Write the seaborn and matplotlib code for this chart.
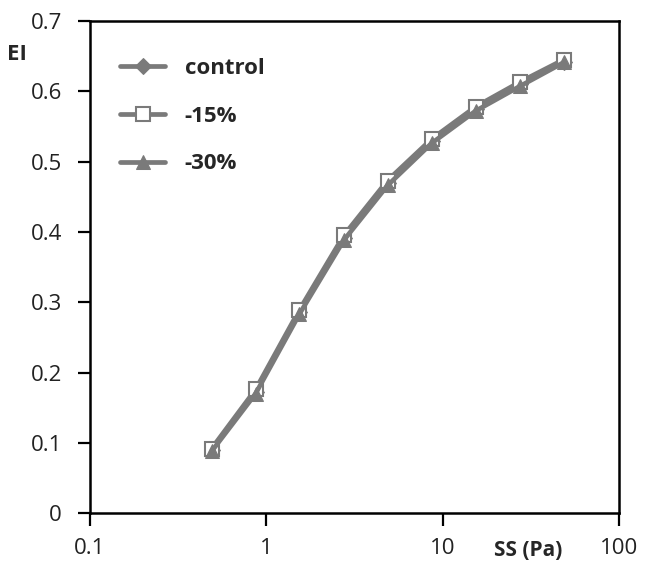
import pandas as pd
import seaborn as sns
import matplotlib.pyplot as plt
import numpy as np

# shear stress (Pa) and elongation index
ss = [0.49, 0.87, 1.54, 2.75, 4.87, 8.66, 15.4, 27.4, 48.7]
ei_control = [0.090, 0.173, 0.286, 0.391, 0.469, 0.529, 0.575, 0.610, 0.642]
ei_15 = [0.092, 0.176, 0.289, 0.395, 0.473, 0.532, 0.578, 0.613, 0.645]
ei_30 = [0.088, 0.170, 0.283, 0.388, 0.466, 0.526, 0.572, 0.607, 0.641]

series_names = ["control", "-15%", "-30%"]
y_ticks = [0, 0.1, 0.2, 0.3, 0.4, 0.5, 0.6, 0.7]
y_labels = ["0", "0.1", "0.2", "0.3", "0.4", "0.5", "0.6", "0.7"]
x_ticks = [0.1, 1, 10, 100]
x_labels = ["0.1", "1", "10", "100"]

sns.set_style("white")
plt.rcParams["font.family"] = ["Open Sans", "DejaVu Sans"]

gray = "#7a7a7a"

fig = plt.figure(figsize=(6.51, 5.78), dpi=100)
ax = fig.add_axes([0.138, 0.112, 0.813, 0.852])

styles = {
    "control": dict(marker="D", markersize=8, markerfacecolor=gray, markeredgecolor=gray),
    "-15%": dict(marker="s", markersize=10, markerfacecolor="white", markeredgecolor=gray,
                 markeredgewidth=1.5),
    "-30%": dict(marker="^", markersize=9.5, markerfacecolor=gray, markeredgecolor=gray),
}

for name, vals in zip(series_names, [ei_control, ei_15, ei_30]):
    df = pd.DataFrame({"SS": ss, "EI": vals})
    sns.lineplot(data=df, x="SS", y="EI", ax=ax, color=gray, linewidth=3.4,
                 label=name, **styles[name])

ax.set_xscale("log")
ax.set_xlim(0.1, 100)
ax.set_ylim(0, 0.7)
ax.set_xticks(x_ticks)
ax.set_xticklabels(x_labels)
ax.minorticks_off()
ax.set_yticks(y_ticks)
ax.set_yticklabels(y_labels)
ax.set_xlabel("")
ax.set_ylabel("")

for sp in ax.spines.values():
    sp.set_visible(True)
    sp.set_color("black")
    sp.set_linewidth(1.8)

ax.tick_params(axis="both", direction="out", length=9, width=1.6, color="black",
               labelsize=16, labelcolor="#222222", bottom=True, left=True)
ax.tick_params(axis="y", pad=11)
ax.tick_params(axis="x", pad=9)

leg = ax.legend(loc="upper left", bbox_to_anchor=(0.02, 0.965), frameon=False,
                handlelength=2.0, handletextpad=0.9, labelspacing=1.2,
                prop={"size": 16, "weight": "bold"})

fig.text(17 / 651, 1 - 54 / 578, "EI", fontsize=16, fontweight="bold",
         ha="center", va="center")
fig.text(528 / 651, 1 - 551 / 578, "SS (Pa)", fontsize=15, fontweight="bold",
         ha="center", va="center")

fig.savefig("out.png", dpi=100)
